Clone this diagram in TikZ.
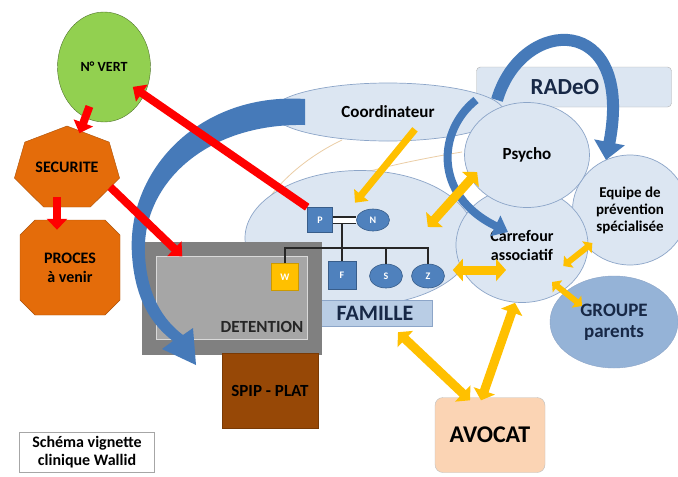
\documentclass[tikz,border=0pt]{standalone}
\usepackage{fontspec}
\setmainfont{Carlito}
\usetikzlibrary{shapes.geometric, arrows.meta}

\definecolor{famfill}{RGB}{220,230,242}
\definecolor{famedge}{RGB}{140,165,200}
\definecolor{labelfill}{RGB}{185,205,229}
\definecolor{membfill}{RGB}{79,129,189}
\definecolor{membedge}{RGB}{56,93,138}
\definecolor{arcblue}{RGB}{70,122,185}
\definecolor{grpfill}{RGB}{149,179,215}
\definecolor{vertfill}{RGB}{146,208,80}
\definecolor{orfill}{RGB}{228,108,10}
\definecolor{goldfill}{RGB}{255,192,0}
\definecolor{spipfill}{RGB}{151,72,6}
\definecolor{avofill}{RGB}{251,212,180}
\definecolor{detout}{RGB}{128,128,128}
\definecolor{detin}{RGB}{166,166,166}
\definecolor{navytext}{RGB}{23,40,70}
\definecolor{faintline}{RGB}{235,205,165}
\newcommand{\fsz}[2]{\fontsize{#1}{#2}\selectfont}

\begin{document}
\begin{tikzpicture}[x=1pt,y=-1pt,
  bubble/.style={ellipse, draw=famedge, fill=famfill, line width=0.7pt, inner sep=0pt, align=center},
  member/.style={draw=membedge, fill=membfill, text=white, inner sep=0pt, line width=0.6pt, font=\bfseries\fsz{10}{10}},
  redarrow/.style={draw=red, line width=8pt, -{Triangle[length=11pt,width=20pt]}},
  goldlink/.style={draw=goldfill, line width=9pt, {Triangle[length=10pt,width=22pt]}-{Triangle[length=10pt,width=22pt]}},
  smalllink/.style={draw=goldfill, line width=6pt, {Triangle[length=7pt,width=15pt]}-{Triangle[length=7pt,width=15pt]}},
  arcarrow/.style={draw=arcblue, line width=10pt, -{Triangle[length=16pt,width=28pt]}}]
\useasboundingbox (0,0) rectangle (678,477);
\fill[white] (0,0) rectangle (678,477);

\draw[faintline, line width=0.8pt] (342,140) .. controls (300,160) and (262,195) .. (252,232);
\draw[faintline, line width=0.8pt] (462,152) .. controls (425,158) and (375,168) .. (340,180);

\node[bubble, minimum width=230pt, minimum height=135pt] (famzone) at (360,238) {};
\node[draw=famedge, fill=labelfill, minimum width=114pt, minimum height=26pt, text=navytext, font=\bfseries\fsz{22}{22}] (famille) at (375,313) {FAMILLE};

\node[rounded corners=4pt, draw=gray!60, fill=famfill, minimum width=195pt, minimum height=40pt, text=navytext, font=\bfseries\fsz{23}{23}] (radeo) at (574,87) {};
\node[text=navytext, font=\bfseries\fsz{23}{23}] (radeotext) at (565,87) {RADeO};
\node[bubble, minimum width=232pt, minimum height=58pt, font=\bfseries\fsz{17}{17}] (coord) at (388,112) {Coordinateur};
\node[bubble, minimum width=115pt, minimum height=110pt, font=\bfseries\fsz{15}{17}] (equipe) at (630,210) {Equipe de\\prévention\\spécialisée};
\node[bubble, minimum width=132pt, minimum height=115pt, font=\bfseries\fsz{16}{19}] (carrefour) at (522,245) {Carrefour\\associatif};
\node[bubble, minimum width=125pt, minimum height=105pt, font=\bfseries\fsz{17}{17}] (psycho) at (527,155) {Psycho};
\node[ellipse, draw=famedge, fill=grpfill, minimum width=128pt, minimum height=92pt, align=center, text=navytext, font=\bfseries\fsz{19}{21}] (groupe) at (614,322) {GROUPE\\parents};

\node[fill=detout, minimum width=180pt, minimum height=113pt] (detention) at (232,298) {};
\node[fill=detin, draw=gray!30, minimum width=151pt, minimum height=83pt] (detinner) at (232,298) {};
\node[font=\bfseries\fsz{17}{17}, text=black!85] (dettext) at (262,327) {DETENTION};
\node[fill=spipfill, draw=spipfill!80!black, minimum width=96pt, minimum height=75pt, font=\bfseries\fsz{17}{17}] (spip) at (270,391) {SPIP - PLAT};
\node[fill=goldfill, draw=goldfill!80!black, minimum size=27pt, inner sep=0pt, text=white, font=\bfseries\fsz{10}{10}] (w) at (285,277) {W};

\node[ellipse, draw=vertfill!55!black, fill=vertfill, minimum width=93pt, minimum height=110pt, font=\bfseries\fsz{14}{14}] (vert) at (104,67) {N° VERT};
\filldraw[fill=orfill, draw=orfill!75!black] (67,126) -- (24.8,142.1) -- (14.4,178.1) -- (43.6,207) -- (90.4,207) -- (119.6,178.1) -- (109.2,142.1) -- cycle;
\node[minimum width=100pt, minimum height=78pt, font=\bfseries\fsz{16}{16}] (securite) at (67,167) {SECURITE};
\filldraw[fill=orfill, draw=orfill!75!black] (35,220) -- (105,220) -- (120,235) -- (120,300) -- (105,315) -- (35,315) -- (20,300) -- (20,235) -- cycle;
\node[align=center, minimum width=100pt, minimum height=95pt, font=\bfseries\fsz{16}{19}] (proces) at (70,267.5) {PROCES\\à venir};

\node[draw=gray!70, fill=white, minimum width=135pt, minimum height=40pt, align=center, font=\bfseries\fsz{16}{18}] (vignette) at (87,452) {Schéma vignette\\clinique Wallid};
\node[rounded corners=8pt, draw=gray!50, fill=avofill, minimum width=110pt, minimum height=75pt, font=\bfseries\fsz{24}{24}] (avocat) at (490,435) {AVOCAT};

\node[member, minimum size=25pt] (p) at (320,220) {P};
\node[member, ellipse, minimum width=33pt, minimum height=22pt] (n) at (373,220) {N};
\node[member, minimum size=28pt] (f) at (342,275) {F};
\node[member, ellipse, minimum width=33pt, minimum height=24pt] (s) at (386,276) {S};
\node[member, ellipse, minimum width=33pt, minimum height=24pt] (z) at (428,276) {Z};
\coordinate (bar) at (0,248);
\draw[line width=1.3pt, black!85] (f.north) -- (f.north |- n.center);
\draw[line width=1.2pt, black!85, double=white, double distance=5pt] (p) -- (n);
\draw[line width=1.3pt, black!85] (w.north) -- (w.north |- bar) -| (z.north);
\draw[line width=1.3pt, black!85] (s.north) -- (s.north |- bar);

\fill[arcblue] (305,99) .. controls (200,92) and (126,170) .. (132,255) .. controls (135,300) and (152,325) .. (173,341) -- (162,349) -- (196,365) -- (193,328) -- (183,335) .. controls (163,320) and (147,295) .. (145,255) .. controls (141,185) and (205,123) .. (305,125) -- cycle;
\draw[arcarrow, line width=8pt, -{Triangle[length=14pt,width=22pt]}] (476,100) .. controls (438,130) and (432,195) .. (508,232);
\draw[arcarrow, line width=12pt, -{Triangle[length=18pt,width=30pt]}] (497,100) .. controls (522,15) and (635,12) .. (606,160);

\draw[redarrow, shorten >=35pt] (p.north west) -- (vert.center);
\draw[redarrow, shorten <=42pt, shorten >=36pt] (vert.center) -- (securite.center);
\draw[redarrow] ([xshift=-10pt,yshift=9pt]securite.south) -- ([xshift=-13pt,yshift=-10pt]proces.north);
\draw[redarrow] ([xshift=-7pt,yshift=-20pt]securite.east) -- ([xshift=26pt]detinner.north west);

\draw[draw=goldfill, line width=7pt, -{Triangle[length=10pt,width=18pt]}] ([xshift=27pt,yshift=12pt]coord.south) -- ([xshift=-18pt,yshift=6pt]n.north);
\draw[goldlink] ([xshift=38pt,yshift=-7pt]n.east) -- ([xshift=13pt,yshift=-17pt]psycho.west);
\draw[goldlink] ([xshift=8pt,yshift=6pt]z.east) -- ([xshift=-16pt,yshift=-25pt]carrefour.center);
\draw[smalllink] ([xshift=-25pt,yshift=-21pt]carrefour.east) -- ([xshift=4pt,yshift=2pt]carrefour.east);
\draw[smalllink] ([xshift=-62pt,yshift=40pt]groupe.center) -- ([xshift=-32pt,yshift=16pt]groupe.center);
\draw[goldlink] ([xshift=23pt,yshift=-6pt]famille.south) -- ([xshift=-20pt,yshift=-3pt]avocat.north);
\draw[goldlink] ([xshift=-9pt,yshift=-3pt]avocat.north) -- ([xshift=-7pt]carrefour.south);
\end{tikzpicture}
\end{document}
